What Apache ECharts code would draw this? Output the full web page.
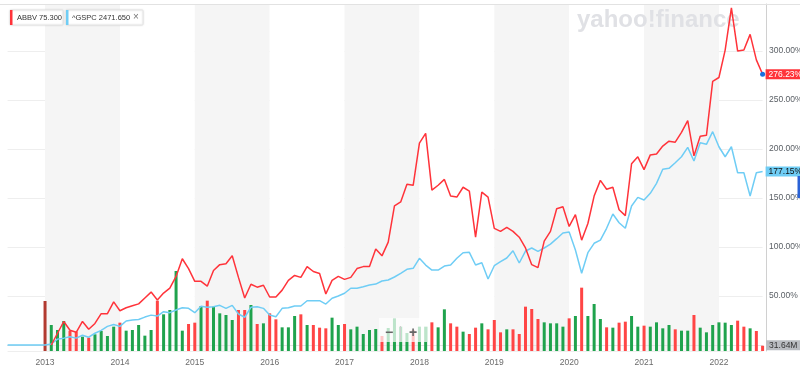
<!DOCTYPE html>
<html><head><meta charset="utf-8">
<script src="https://cdn.jsdelivr.net/npm/echarts@6/dist/echarts.min.js"></script>
<style>html,body{margin:0;padding:0;background:#fff}#c{width:800px;height:370px}</style>
</head><body><div id="c"></div>
<script>
// ---- data (monthly, Jan 2013 .. Aug 2022) ----
const preMonths = ['2012-07','2012-08','2012-09','2012-10','2012-11','2012-12'];
const gspcPre = [0,0,0,0,0,0];
const abbvPct = [null,0,12,24,15,13,24,16,22,32,
 32,44,35,38,40,42,48,54,46,53,
 58,70,88,78,65,65,60,76,82,83,
 91,69,48,62,59,61,49,49,56,66,
 71,69,80,75,73,52,66,70,67,69,
 78,80,80,98,91,105,142,146,164,163,
 206,216,158,163,169,152,151,161,157,110,
 156,151,119,116,120,116,110,99,82,79,
 106,116,139,141,121,133,107,124,152,168,
 159,161,138,132,185,192,179,194,195,203,
 208,207,217,229,193,213,214,269,273,301,
 344,300,301,317,291,276.23];
const gspcPct = [0,1,6,7,8.5,7,10,8,12,15,
 19,21,19,24.5,25.5,26,28.5,30.5,29.5,34,
 33,35.7,38,37.4,33,39.5,38.5,39,40.5,37.4,
 40.5,31.6,28.3,38.5,39,37.4,30.6,28.9,37.4,38,
 39.8,39.8,45.2,45.2,45.2,41.8,47.7,50,52.8,57.9,
 57.9,59.5,61.2,62.2,65.3,66.3,69.4,73.2,77.2,78.3,
 88.5,81.6,76.5,76.5,80.6,81.6,88.5,94.2,94.6,81.6,
 84,67.3,80.9,85,88.8,96.2,83.7,95.9,99,95.6,
 99,103,108.5,114.3,115.3,96.9,73.2,94.2,103.8,107.1,
 119.1,133.7,124.8,119.1,141.8,150.7,148,154.8,165,179.3,
 180.3,186,192.1,201.7,187.8,206.4,204.8,217.7,202.3,192.1,
 202.3,175.8,175.8,152,175.8,177.15];
const volumeM = [300,156,126,180,122,116,86,80,100,120,
 90,146,170,122,126,156,92,126,302,220,
 246,480,122,162,170,270,302,266,226,216,
 186,246,246,276,162,166,226,190,142,142,
 210,220,156,156,140,136,200,156,162,130,
 146,102,126,132,90,138,196,146,108,126,
 146,146,172,142,250,166,146,116,102,140,
 166,130,186,112,130,130,102,266,252,192,
 172,166,166,146,196,210,380,210,282,192,
 142,140,170,176,210,146,152,146,172,136,
 156,130,122,122,216,140,112,156,172,170,
 156,182,146,136,120,31.64];
const volumeDir = 'x' + 'uuudduduuu' + 'uduuuuuduu' + 'uudduduuuu' + 'ddududduuu' + 'duddduuduu' +
  'uuuduuuudu' + 'uduudduddu' + 'dddudddddu' + 'uuududuuud' + 'udduuduuuu' + 'duuduuuuuu' + 'ddudd';
const abbvLast = '75.300', gspcLast = '2471.650';

// ---- build ----
const months = preMonths.slice();
for (let y = 2013; y <= 2022; y++) for (let m = 1; m <= 12; m++) {
  if (y === 2022 && m > 8) break;
  months.push(y + '-' + (m < 10 ? '0' + m : m));
}
const nulls = preMonths.map(() => null);
const RED = '#ff333a', BLUE = '#6fcdf5';
const FONT = 'Liberation Sans';
const abbvData = nulls.concat(abbvPct).map((v, i, a) =>
  i === a.length - 1 ? {value: v, symbol: 'circle', symbolSize: 5, itemStyle: {color: '#1a6fe0'}} : v);
const gspcData = gspcPre.concat(gspcPct);
const volColors = {x: '#b23a30', u: '#1fa34d', d: '#ff4545'};
const volData = nulls.concat(volumeM.map((v, i) => {
  const o = {value: v, itemStyle: {color: volColors[volumeDir[i]]}};
  if (i === volumeM.length - 1) o.label = {show: true, position: 'right', distance: 2, offset: [0, -3],
    formatter: p => p.value.toFixed(2) + 'M', backgroundColor: '#b9bcc1', color: '#333',
    padding: [1, 3, 0, 3], fontSize: 8.5, fontFamily: FONT};
  return o;
}));
const isJan = (i, v) => /-01$/.test(v);

const chart = echarts.init(document.getElementById('c'), null, {renderer: 'canvas'});
chart.setOption({
  animation: false,
  backgroundColor: '#fff',
  grid: {left: 7.6, right: 37.4, top: 4, bottom: 19, containLabel: false, outerBoundsMode: 'none'},
  xAxis: {
    type: 'category', data: months, boundaryGap: false,
    axisLine: {show: true, lineStyle: {color: '#e3e3e3'}},
    axisTick: {show: false},
    axisLabel: {interval: isJan, formatter: v => v.slice(0, 4), color: '#6b6b6b', fontSize: 8.5, fontFamily: FONT, margin: 7},
    splitLine: {show: false},
    splitArea: {show: true, interval: isJan, areaStyle: {color: ['#f5f5f5', '#ffffff']}}
  },
  yAxis: [{
    type: 'value', position: 'right', min: -6.12, max: 348, splitNumber: 7, offset: 3.4,
    axisLine: {show: true, lineStyle: {color: '#d0d0d0'}},
    axisTick: {show: false},
    axisLabel: {color: '#5b6066', fontSize: 8.5, fontFamily: FONT, margin: 3,
      formatter: v => (v > 0 && Math.abs(v % 50) < 1e-6) ? v.toFixed(2) + '%' : ''},
    splitLine: {show: true, lineStyle: {color: '#eeeeee'}}
  }, {
    type: 'value', min: 0, max: 2082, show: false, splitLine: {show: false}
  }],
  series: [{
    type: 'bar', xAxisIndex: 0, yAxisIndex: 1, barWidth: 3, data: volData, z: 2
  }, {
    type: 'line', data: gspcData, symbol: 'none', z: 3,
    lineStyle: {color: BLUE, width: 1.5}, itemStyle: {color: BLUE},
    endLabel: {show: true, formatter: p => p.value.toFixed(2) + '%', backgroundColor: BLUE, color: '#111',
      padding: [1, 3, 0, 3], fontSize: 8.5, fontFamily: FONT, distance: 3}
  }, {
    type: 'line', data: abbvData, symbol: 'none', showAllSymbol: true, z: 4,
    lineStyle: {color: RED, width: 1.5}, itemStyle: {color: RED},
    endLabel: {show: true, formatter: p => p.value.toFixed(2) + '%',
      backgroundColor: RED, color: '#fff', padding: [1, 3, 0, 3], fontSize: 8.5, fontFamily: FONT, distance: 3}
  }],
  graphic: [
    {type: 'line', shape: {x1: 0, y1: 4.5, x2: 800, y2: 4.5}, style: {stroke: '#e2e2e2', lineWidth: 1}, z: 10},
    {type: 'text', x: 577, y: 8, z: 1, style: {text: 'yahoo!finance', fontSize: 24, fontWeight: 'bold',
      fontFamily: FONT, fill: '#e0e1e5'}},
    // legend chips
    {type: 'rect', shape: {x: 10, y: 10, width: 53, height: 15, r: 1}, style: {fill: '#fff', stroke: '#e6e6e6',
      shadowBlur: 2, shadowColor: 'rgba(0,0,0,0.12)'}, z: 20},
    {type: 'rect', shape: {x: 10, y: 10, width: 2.5, height: 15}, style: {fill: RED}, z: 21},
    {type: 'text', x: 17, y: 17.5, z: 21, style: {text: 'ABBV ' + abbvLast, fontSize: 7.5, fontFamily: FONT,
      fill: '#333', verticalAlign: 'middle'}},
    {type: 'rect', shape: {x: 66, y: 10, width: 77, height: 15, r: 1}, style: {fill: '#fff', stroke: '#e6e6e6',
      shadowBlur: 2, shadowColor: 'rgba(0,0,0,0.12)'}, z: 20},
    {type: 'rect', shape: {x: 66, y: 10, width: 2.5, height: 15}, style: {fill: BLUE}, z: 21},
    {type: 'text', x: 72, y: 17.5, z: 21, style: {text: '^GSPC ' + gspcLast, fontSize: 7.5, fontFamily: FONT,
      fill: '#333', verticalAlign: 'middle'}},
    {type: 'text', x: 136, y: 17.5, z: 21, style: {text: '×', fontSize: 10, fontFamily: FONT,
      fill: '#777', verticalAlign: 'middle', align: 'center'}},
    // zoom control overlay
    {type: 'rect', shape: {x: 379, y: 318, width: 48, height: 24}, style: {fill: 'rgba(255,255,255,0.7)'}, z: 30},
    {type: 'text', x: 389, y: 333, z: 31, style: {text: '−', fontSize: 14, fontWeight: 'bold', fontFamily: FONT,
      fill: '#666', align: 'center', verticalAlign: 'middle'}},
    {type: 'line', shape: {x1: 400.5, y1: 326, x2: 400.5, y2: 341}, style: {stroke: '#cfcfcf', lineWidth: 1}, z: 31},
    {type: 'text', x: 413, y: 333, z: 31, style: {text: '+', fontSize: 14, fontWeight: 'bold', fontFamily: FONT,
      fill: '#666', align: 'center', verticalAlign: 'middle'}},
    {type: 'rect', shape: {x: 797.5, y: 176, width: 2.5, height: 22}, style: {fill: '#2a62d6'}, z: 30}
  ]
});
</script>
</body></html>
